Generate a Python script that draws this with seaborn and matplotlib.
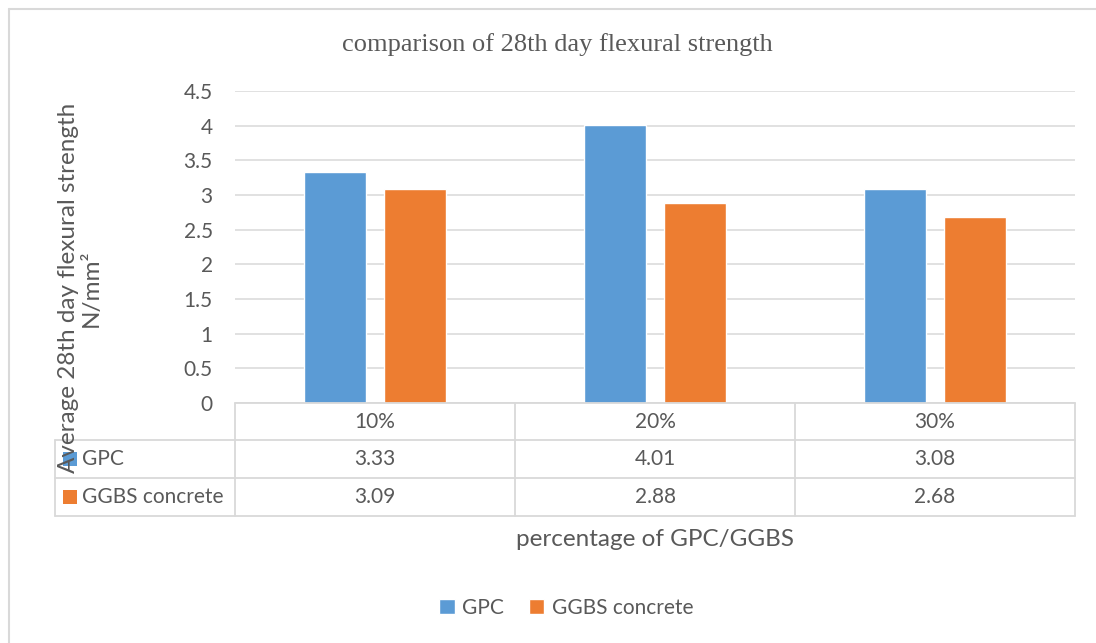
import matplotlib
matplotlib.use("Agg")
import matplotlib.pyplot as plt
from matplotlib.lines import Line2D
from matplotlib.patches import Rectangle
import seaborn as sns
import pandas as pd

categories = ["10%", "20%", "30%"]
series_names = ["GPC", "GGBS concrete"]
gpc_values = [3.33, 4.01, 3.08]
ggbs_values = [3.09, 2.88, 2.68]
y_ticks = [0, 0.5, 1, 1.5, 2, 2.5, 3, 3.5, 4, 4.5]
y_tick_labels = ["0", "0.5", "1", "1.5", "2", "2.5", "3", "3.5", "4", "4.5"]

colors = ["#5B9BD5", "#ED7D31"]
grid_c = "#D9D9D9"
txt_c = "#595959"
W, H = 1096, 643

sns.set_theme(style="white")
plt.rcParams["font.family"] = ["Lato", "DejaVu Sans"]

df = pd.DataFrame({
    "pct": categories * 2,
    "val": gpc_values + ggbs_values,
    "series": [series_names[0]] * 3 + [series_names[1]] * 3,
})

fig = plt.figure(figsize=(W / 100, H / 100), dpi=100)
fig.patch.set_facecolor("white")

def fx(x):
    return x / W

def fy(y):
    return 1 - y / H

ax = fig.add_axes([fx(235), fy(403), fx(1075) - fx(235), fy(91) - fy(403)])
sns.barplot(data=df, x="pct", y="val", hue="series", palette=colors,
            width=0.57, gap=0.225, ax=ax, saturation=1, legend=True)
handles, labels = ax.get_legend_handles_labels()
ax.get_legend().remove()

ax.set_ylim(0, 4.5)
ax.set_xlim(-0.5, 2.5)
ax.set_yticks(y_ticks)
ax.set_yticklabels(y_tick_labels, color=txt_c, fontsize=15)
ax.set_xticks([])
ax.set_xlabel("")
ax.set_ylabel("")
ax.tick_params(axis="y", length=0, pad=16)
for s in ax.spines.values():
    s.set_visible(False)
ax.yaxis.grid(True, color=grid_c, linewidth=1.1)
ax.set_axisbelow(True)

# figure frame (top and left edges visible)
fig.add_artist(Line2D([fx(8.5), fx(8.5)], [fy(8.5), 0], transform=fig.transFigure, color=grid_c, lw=1.5))
fig.add_artist(Line2D([fx(8.5), 1], [fy(8.5), fy(8.5)], transform=fig.transFigure, color=grid_c, lw=1.5))

# title
fig.text(fx(557), fy(45), "comparison of 28th day flexural strength", ha="center", va="center",
         fontsize=19, color=txt_c, family=["Liberation Serif", "DejaVu Serif"])

# y label
fig.text(fx(80), fy(288), "Average 28th day flexural strength\nN/mm²", rotation=90,
         ha="center", va="center", multialignment="center", fontsize=17.5, color=txt_c,
         linespacing=1.1)

# data table
row_y = [403, 440, 478, 516]
col_x = [235, 515, 795, 1075]
def hline(x0, x1, y):
    fig.add_artist(Line2D([fx(x0), fx(x1)], [fy(y), fy(y)], transform=fig.transFigure, color=grid_c, lw=1.3))
def vline(x, y0, y1):
    fig.add_artist(Line2D([fx(x), fx(x)], [fy(y0), fy(y1)], transform=fig.transFigure, color=grid_c, lw=1.3))

hline(235, 1075, 403)
hline(55, 1075, 440)
hline(55, 1075, 478)
hline(55, 1075, 516)
vline(55, 440, 516)
for cx in col_x:
    vline(cx, 403, 516)

tfs = 15
for i, c in enumerate(categories):
    xc = (col_x[i] + col_x[i + 1]) / 2
    fig.text(fx(xc), fy(422), c, ha="center", va="center", fontsize=tfs, color=txt_c)
    fig.text(fx(xc), fy(459), f"{gpc_values[i]:.2f}", ha="center", va="center", fontsize=tfs, color=txt_c)
    fig.text(fx(xc), fy(497), f"{ggbs_values[i]:.2f}", ha="center", va="center", fontsize=tfs, color=txt_c)

for j, (name, yc) in enumerate(zip(series_names, [459, 497])):
    fig.add_artist(Rectangle((fx(63), fy(yc + 7)), fx(14), 14 / H, transform=fig.transFigure,
                             facecolor=colors[j], edgecolor="none"))
    fig.text(fx(82), fy(yc), name, ha="left", va="center", fontsize=tfs, color=txt_c)

# x label
fig.text(fx(655), fy(540), "percentage of GPC/GGBS", ha="center", va="center", fontsize=17.5, color=txt_c)

# legend
fig.legend(handles, labels, loc="center", bbox_to_anchor=(fx(566), fy(608)), ncol=2,
           frameon=False, fontsize=15, handlelength=0.75, handleheight=0.75,
           handletextpad=0.35, columnspacing=1.2, labelcolor=txt_c)

fig.savefig("out.png", dpi=100, facecolor="white")
